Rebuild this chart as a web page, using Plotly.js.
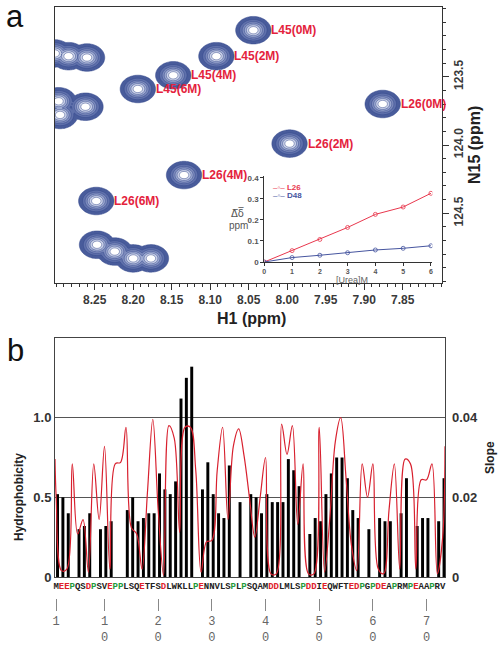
<!DOCTYPE html>
<html><head><meta charset="utf-8">
<script src="https://cdn.plot.ly/plotly-3.0.1.min.js"></script>
<style>html,body{margin:0;padding:0;background:#fff}#chart{width:503px;height:646px}</style>
</head><body><div id="chart"></div>
<script>
// ---------- Panel a: 1H-15N HSQC peaks ----------
const peakLabels = ['L45(0M)','L45(2M)','L45(4M)','L45(6M)','L26(0M)','L26(2M)','L26(4M)','L26(6M)'];
const peakH1  = [8.044, 8.092, 8.148, 8.194, 7.876, 7.997, 8.134, 8.248];
const peakN15 = [123.16, 123.35, 123.49, 123.59, 123.70, 123.99, 124.22, 124.41];
const otherH1  = [8.302, 8.284, 8.260, 8.297, 8.295, 8.262, 8.247, 8.224, 8.200, 8.177];
const otherN15 = [123.33, 123.35, 123.36, 123.68, 123.78, 123.72, 124.73, 124.78, 124.83, 124.83];
const h1Ticks = [8.25, 8.20, 8.15, 8.10, 8.05, 8.00, 7.95, 7.90, 7.85];
const h1TickText = ['8.25','8.20','8.15','8.10','8.05','8.00','7.95','7.90','7.85'];
const n15Ticks = [123.5, 124.0, 124.5];
const n15TickText = ['123.5','124.0','124.5'];

// ---------- Inset: chemical shift change vs urea ----------
const urea = [0, 1, 2, 3, 4, 5, 6];
const dL26 = [0, 0.054, 0.107, 0.164, 0.226, 0.261, 0.326];
const dD48 = [0, 0.021, 0.032, 0.044, 0.057, 0.065, 0.077];
const insetYTicks = [0, 0.1, 0.2, 0.3, 0.4];
const insetYTickText = ['0','0.1','0.2','0.3','0.4'];

// ---------- Panel b: hydrophobicity and slope ----------
const sequence = 'MEEPQSDPSVEPPLSQETFSDLWKLLPENNVLSPLPSQAMDDLMLSPDDIEQWFTEDPGPDEAPRMPEAAPRV'.split('');
const hydro = [0.52,0.50,0.40,null,0.30,0.32,0.40,null,0.30,0.32,
               0.35,null,null,0.42,0.50,0.35,0.37,0.40,0.40,0.65,
               0.55,0.52,0.60,1.12,1.25,1.32,null,0.55,0.72,0.52,
               0.40,0.37,0.70,null,0.47,null,0.52,0.50,0.40,0.52,
               0.47,0.47,0.47,0.74,0.67,0.57,null,0.27,0.37,0.35,
               0.52,0.65,0.75,0.75,0.62,0.42,0.37,null,0.30,null,
               0.37,0.35,0.35,null,0.40,0.62,null,0.32,0.37,0.37,
               null,0.35,0.62];
const slope = [0.0200,0.0016,0.0020,0.0284,0.0108,0.0144,0.0012,0.0284,0.0144,0.0328,
               0.0020,0.0284,0.0288,0.0376,0.0124,0.0108,0.0020,0.0212,0.0396,0.0168,
               0.0004,0.0380,0.0348,0.0112,0.0376,0.0376,0.0268,0.0012,0.0088,0.0092,
               0.0268,0.0376,0.0144,0.0328,0.0372,0.0304,0.0200,0.0100,0.0200,0.0300,
               0.0008,0.0008,0.0384,0.0308,0.0380,0.0132,0.0284,0.0008,0.0008,0.0376,
               0.0012,0.0152,0.0340,0.0400,0.0248,0.0080,0.0016,0.0284,0.0200,0.0284,
               0.0020,0.0008,0.0168,0.0284,0.0020,0.0296,0.0284,0.0020,0.0244,0.0244,
               0.0284,0.0008,0.0100];
const slopeEdges = [0.0296, 0.0328];
const residueTicks = [1, 10, 20, 30, 40, 50, 60, 70];
const residueTickText = ['1','1<br>0','2<br>0','3<br>0','4<br>0','5<br>0','6<br>0','7<br>0'];
const hydroTicks = [0, 0.5, 1.0];
const hydroTickText = ['0','0.5','1.0'];
const slopeTicks = [0, 0.02, 0.04];
const slopeTickText = ['0','0.02','0.04'];

// ---------- build ----------
const FONT = 'Liberation Sans, Arial, sans-serif';
const MONO = 'Liberation Mono, DejaVu Sans Mono, monospace';

// contour surface for the peaks (each peak drawn as an elliptical blob)
const allH1 = peakH1.concat(otherH1), allN15 = peakN15.concat(otherN15);
const sx = 0.0107, sy = 0.047;
const gx = [], gy = [];
for (let i = 0; i <= 360; i++) gx.push(7.78 + i * 0.0015);
for (let j = 0; j <= 350; j++) gy.push(122.95 + j * 0.006);
const gz = gy.map(yv => gx.map(xv => {
  let m = 0;
  for (let k = 0; k < allH1.length; k++) {
    const dx = (xv - allH1[k]) / sx, dy = (yv - allN15[k]) / sy;
    const d = dx * dx + dy * dy;
    if (d < 14) { const e = Math.exp(-0.5 * d); if (e > m) m = e; }
  }
  return m;
}));

const residues = sequence.map((_, i) => i + 1);
const xRangeB = [0.78, 73.43];
const colorFor = c => (c === 'D' || c === 'E') ? '#e0202a' : (c === 'P' ? '#1f9a3a' : '#222');
const seqTickText = sequence.map(c => '<span style="color:' + colorFor(c) + '">' + c + '</span>');

const traces = [
  { type: 'contour', x: gx, y: gy, z: gz, xaxis: 'x', yaxis: 'y',
    autocontour: false, contours: { start: 0.1, end: 0.85, size: 0.15, coloring: 'fill', showlines: true },
    line: { color: '#33468a', width: 0.5, smoothing: 1 },
    colorscale: [[0,'rgba(255,255,255,0)'],[0.08,'rgba(255,255,255,0)'],[0.08,'#3e5292'],
                 [0.3,'#5a6ca8'],[0.5,'#7d8bbc'],[0.7,'#a6b1d5'],[0.88,'#d8ddee'],[1,'#ffffff']],
    showscale: false, hoverinfo: 'skip' },
  { type: 'scatter', x: urea, y: dL26, xaxis: 'x2', yaxis: 'y2', mode: 'lines+markers', name: 'L26',
    line: { color: '#e8374d', width: 1 }, marker: { symbol: 'circle-open', size: 4, color: '#e8374d', line: { width: 0.8 } } },
  { type: 'scatter', x: urea, y: dD48, xaxis: 'x2', yaxis: 'y2', mode: 'lines+markers', name: 'D48',
    line: { color: '#46559f', width: 1 }, marker: { symbol: 'circle-open', size: 4, color: '#46559f', line: { width: 0.8 } } },
  { type: 'bar', x: residues, y: hydro, xaxis: 'x3', yaxis: 'y3', width: 0.55, offset: -0.025,
    marker: { color: '#000', line: { width: 0 } }, name: 'Hydrophobicity' },
  { type: 'scatter', x: [xRangeB[0]].concat(residues, [xRangeB[1]]), y: [slopeEdges[0]].concat(slope, [slopeEdges[1]]),
    xaxis: 'x3', yaxis: 'y4', mode: 'lines', line: { color: '#d8202e', width: 1.2, shape: 'spline', smoothing: 1 }, name: 'Slope' },
  { type: 'scatter', x: [], y: [], xaxis: 'x4', yaxis: 'y3', mode: 'markers', showlegend: false }
];

const tickBold = (size, color) => ({ family: FONT, size: size, color: color, weight: 'bold' });

const layout = {
  width: 503, height: 646, margin: { l: 0, r: 0, t: 0, b: 0 },
  paper_bgcolor: '#fff', plot_bgcolor: 'rgba(0,0,0,0)', showlegend: false,
  xaxis: { domain: [0.10934, 0.87873], range: [8.3016, 7.799], anchor: 'y',
    showline: true, mirror: true, linecolor: '#333', linewidth: 1,
    ticks: 'outside', ticklen: 6, tickcolor: '#333', tickvals: h1Ticks, ticktext: h1TickText,
    tickfont: tickBold(12, '#3a3a3a'),
    minor: { ticks: 'outside', ticklen: 3, dtick: 0.01, tick0: 8.0, tickcolor: '#333' },
    showgrid: false, zeroline: false },
  yaxis: { domain: [0.56192, 0.98916], range: [125.01, 122.99], anchor: 'x', side: 'right',
    showline: true, mirror: true, linecolor: '#333', linewidth: 1,
    ticks: 'outside', ticklen: 6, tickcolor: '#333', tickvals: n15Ticks, ticktext: n15TickText, tickangle: -90,
    tickfont: tickBold(12, '#3a3a3a'),
    minor: { ticks: 'outside', ticklen: 3, dtick: 0.1, tick0: 123.0, tickcolor: '#333' },
    showgrid: false, zeroline: false },
  xaxis2: { domain: [0.52545, 0.85944], range: [0, 6.05], anchor: 'y2',
    showline: true, linecolor: '#333', linewidth: 1, ticks: 'outside', ticklen: 3, tickcolor: '#333',
    tickvals: urea, tickfont: tickBold(7, '#555'), showgrid: false, zeroline: false },
  yaxis2: { domain: [0.59443, 0.72817], range: [0, 0.41], anchor: 'x2',
    showline: true, linecolor: '#333', linewidth: 1, ticks: 'outside', ticklen: 3, tickcolor: '#333',
    tickvals: insetYTicks, ticktext: insetYTickText, tickfont: tickBold(8, '#555'), showgrid: false, zeroline: false },
  xaxis3: { domain: [0.10934, 0.88469], range: xRangeB, anchor: 'y3',
    showline: true, mirror: true, linecolor: '#444', linewidth: 1, ticks: '',
    tickvals: residues, ticktext: seqTickText, tickangle: 0,
    tickfont: { family: MONO, size: 9, color: '#222', weight: 'bold' }, showgrid: false, zeroline: false },
  yaxis3: { domain: [0.10681, 0.47678], range: [0, 1.5], anchor: 'x3',
    showline: true, mirror: true, linecolor: '#444', linewidth: 1, ticks: '',
    showgrid: true, gridcolor: '#555', gridwidth: 1,
    tickvals: hydroTicks, ticktext: hydroTickText, tickfont: tickBold(13, '#333'), zeroline: false },
  yaxis4: { overlaying: 'y3', side: 'right', anchor: 'x3', range: [0, 0.06],
    showgrid: false, zeroline: false, showline: false, ticks: '',
    tickvals: slopeTicks, ticktext: slopeTickText, tickfont: tickBold(13, '#333'), ticklabelstandoff: 6 },
  xaxis4: { overlaying: 'x3', anchor: 'free', position: 0.0743, side: 'bottom', range: xRangeB,
    showline: false, ticks: 'outside', ticklen: 12, tickcolor: '#888', tickwidth: 1,
    tickvals: residueTicks, ticktext: residueTickText, tickangle: 0,
    tickfont: { family: MONO, size: 12, color: '#666' }, showgrid: false, zeroline: false },
  annotations: []
};

const A = layout.annotations;
// peak labels
peakLabels.forEach((t, k) => A.push({ x: peakH1[k], y: peakN15[k], xref: 'x', yref: 'y', text: t,
  showarrow: false, xanchor: 'left', yanchor: 'middle', xshift: 16,
  font: { family: FONT, size: 12, color: '#e4223c', weight: 'bold' } }));
// panel letters
A.push({ x: 15 / 503, y: 1 - 17 / 646, xref: 'paper', yref: 'paper', text: 'a', showarrow: false,
  xanchor: 'center', yanchor: 'middle', font: { family: FONT, size: 31, color: '#111' } });
A.push({ x: 16 / 503, y: 1 - 351 / 646, xref: 'paper', yref: 'paper', text: 'b', showarrow: false,
  xanchor: 'center', yanchor: 'middle', font: { family: FONT, size: 31, color: '#111' } });
// axis titles
A.push({ x: 252 / 503, y: 1 - 319 / 646, xref: 'paper', yref: 'paper', text: 'H1 (ppm)', showarrow: false,
  xanchor: 'center', yanchor: 'middle', font: { family: FONT, size: 16, color: '#222', weight: 'bold' } });
A.push({ x: 474 / 503, y: 1 - 145 / 646, xref: 'paper', yref: 'paper', text: 'N15 (ppm)', showarrow: false, textangle: -90,
  xanchor: 'center', yanchor: 'middle', font: { family: FONT, size: 16, color: '#222', weight: 'bold' } });
A.push({ x: 19 / 503, y: 1 - 497 / 646, xref: 'paper', yref: 'paper', text: 'Hydrophobicity', showarrow: false, textangle: -90,
  xanchor: 'center', yanchor: 'middle', font: { family: FONT, size: 12, color: '#222', weight: 'bold' } });
A.push({ x: 490 / 503, y: 1 - 458 / 646, xref: 'paper', yref: 'paper', text: 'Slope', showarrow: false, textangle: -90,
  xanchor: 'center', yanchor: 'middle', font: { family: FONT, size: 12, color: '#222', weight: 'bold' } });
// inset titles
A.push({ x: 352 / 503, y: 1 - 280 / 646, xref: 'paper', yref: 'paper', text: '[Urea]M', showarrow: false,
  xanchor: 'center', yanchor: 'middle', font: { family: FONT, size: 9, color: '#666' } });
A.push({ x: 237 / 503, y: 1 - 213 / 646, xref: 'paper', yref: 'paper', text: 'Δ\u0305δ\u0305', showarrow: false,
  xanchor: 'center', yanchor: 'middle', font: { family: 'DejaVu Sans, sans-serif', size: 10, color: '#555' } });
A.push({ x: 238 / 503, y: 1 - 225 / 646, xref: 'paper', yref: 'paper', text: 'ppm', showarrow: false,
  xanchor: 'center', yanchor: 'middle', font: { family: FONT, size: 10, color: '#555' } });
// inset legend
[['L26', '#e8374d', 187], ['D48', '#46559f', 196]].forEach(([t, c, py]) => A.push({
  x: 271 / 503, y: 1 - py / 646, xref: 'paper', yref: 'paper', showarrow: false, xanchor: 'left', yanchor: 'middle',
  text: '<span style="color:' + c + '">–◦–</span> <b>' + t + '</b>',
  font: { family: FONT, size: 8, color: c } }));

Plotly.newPlot('chart', traces, layout, { staticPlot: true, displayModeBar: false });
</script>
</body></html>
